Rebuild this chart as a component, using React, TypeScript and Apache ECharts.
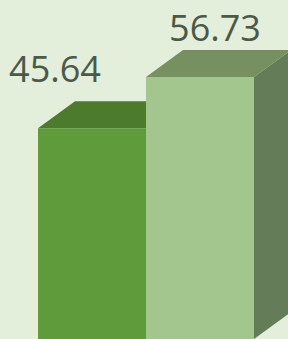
import React, { useEffect, useRef } from "react";
import * as echarts from "echarts";

const categories = ["A", "B"];
const values = [45.64, 56.73];
const labels = ["45.64", "56.73"];

const FRONT = ["#5f9a3b", "#a3c68f"];
const TOP = ["#4c7b2c", "#76905f"];
const SIDE = ["#46722a", "#647c57"];
const LABEL_DX = [-37, 15];
const LABEL_DY = [-60, -50];
const DX = 37;
const DY = 27;

export default function App() {
  const ref = useRef<HTMLDivElement>(null);
  useEffect(() => {
    if (!ref.current) return;
    const chart = echarts.init(ref.current, undefined, { renderer: "svg" });
    chart.setOption({
      animation: false,
      backgroundColor: "#e3eedb",
      grid: { left: 38, right: 34, top: 62, height: 280 },
      xAxis: { type: "category", data: categories, show: false },
      yAxis: { type: "value", min: 0, max: 60, show: false },
      series: [
        {
          type: "custom",
          data: values.map((v, i) => [i, v]),
          encode: { x: 0, y: 1 },
          renderItem: (params: any, api: any) => {
            const i = api.value(0);
            const v = api.value(1);
            const top = api.coord([i, v]);
            const base = api.coord([i, 0]);
            const w = api.size([1, 0])[0];
            const x0 = top[0] - w / 2;
            const x1 = top[0] + w / 2;
            const yT = top[1];
            const yB = base[1];
            return {
              type: "group",
              children: [
                {
                  type: "polygon",
                  shape: { points: [[x1, yT], [x1 + DX, yT - DY], [x1 + DX, yB - DY], [x1, yB]] },
                  style: { fill: SIDE[i] },
                },
                {
                  type: "polygon",
                  shape: { points: [[x0, yT], [x0 + DX, yT - DY], [x1 + DX, yT - DY], [x1, yT]] },
                  style: { fill: TOP[i] },
                },
                {
                  type: "rect",
                  shape: { x: x0, y: yT, width: w, height: yB - yT },
                  style: { fill: FRONT[i] },
                },
                {
                  type: "text",
                  style: {
                    text: labels[i],
                    x: top[0] + LABEL_DX[i],
                    y: yT + LABEL_DY[i],
                    align: "center",
                    verticalAlign: "middle",
                    fill: "#4a5948",
                    font: "36px 'Open Sans', sans-serif",
                  },
                },
              ],
            };
          },
        },
      ],
    });
    return () => chart.dispose();
  }, []);
  return (
    <div
      ref={ref}
      style={{ position: "fixed", left: 0, top: 0, width: 288, height: 339 }}
    />
  );
}
